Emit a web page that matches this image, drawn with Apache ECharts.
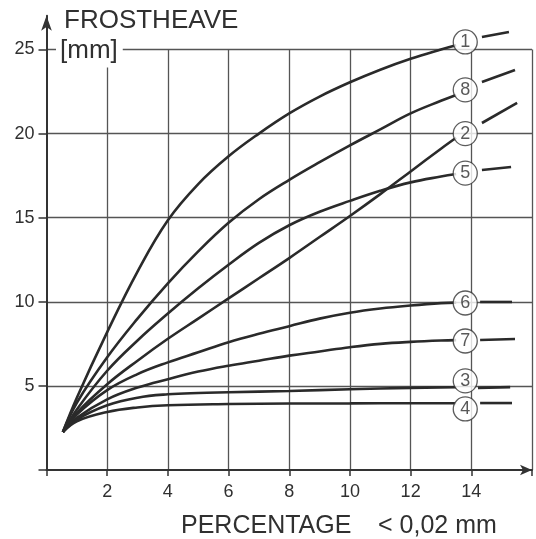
<!DOCTYPE html>
<html>
<head>
<meta charset="utf-8">
<script src="https://cdn.jsdelivr.net/npm/echarts@6/dist/echarts.min.js"></script>
<style>
html, body { margin: 0; padding: 0; background: #fff; }
#chartDom { width: 536px; height: 539px; }
</style>
</head>
<body>
<div id="chartDom"></div>
<script>
// axis tick labels
const xTicks = [2, 4, 6, 8, 10, 12, 14]
const yTicks = [5, 10, 15, 20, 25]

// curve names, in the order of the circled labels (top to bottom)
const curveNames = ['1', '8', '2', '5', '6', '7', '3', '4']

// frost heave [mm] against percentage < 0,02 mm
const curve1 = [[0.54, 2.26], [1, 4.3], [2, 8.2], [3, 11.8], [4, 14.85], [5, 17.0], [6, 18.65], [7, 20.0], [8, 21.2], [9, 22.2], [10, 23.05], [11, 23.8], [12, 24.45], [13, 25.0], [13.5, 25.25]]
const curve8 = [[0.54, 2.26], [1, 4.0], [2, 6.7], [3, 9.0], [4, 11.1], [5, 13.0], [6, 14.7], [7, 16.1], [8, 17.25], [9, 18.3], [10, 19.3], [11, 20.25], [12, 21.2], [13, 21.95], [13.5, 22.3]]
const curve2 = [[0.54, 2.26], [1, 3.4], [2, 5.1], [3, 6.5], [4, 7.8], [5, 9.0], [6, 10.2], [7, 11.4], [8, 12.6], [9, 13.85], [10, 15.1], [11, 16.4], [12, 17.75], [13, 19.1], [13.5, 19.75]]
const curve5 = [[0.54, 2.26], [1, 3.6], [2, 5.9], [3, 7.7], [4, 9.3], [5, 10.8], [6, 12.2], [7, 13.5], [8, 14.55], [9, 15.35], [10, 16.0], [11, 16.6], [12, 17.1], [13, 17.45], [13.5, 17.6]]
const curve6 = [[0.54, 2.26], [1, 3.3], [2, 4.75], [3, 5.7], [4, 6.4], [5, 7.0], [6, 7.6], [7, 8.1], [8, 8.55], [9, 9.0], [10, 9.35], [11, 9.6], [12, 9.78], [13, 9.92], [13.5, 9.95]]
const curve7 = [[0.54, 2.26], [1, 3.1], [2, 4.2], [3, 4.9], [4, 5.4], [5, 5.85], [6, 6.2], [7, 6.5], [8, 6.8], [9, 7.05], [10, 7.3], [11, 7.5], [12, 7.62], [13, 7.7], [13.5, 7.72]]
const curve3 = [[0.54, 2.26], [1, 3.0], [2, 3.85], [3, 4.3], [4, 4.5], [5, 4.58], [6, 4.62], [8, 4.7], [10, 4.8], [12, 4.88], [13.5, 4.92]]
const curve4 = [[0.54, 2.26], [1, 2.9], [2, 3.45], [3, 3.72], [4, 3.85], [6, 3.92], [8, 3.95], [10, 3.96], [12, 3.97], [13.5, 3.97]]

// short pieces right of the labels
const tail1 = [[14.35, 25.74], [15.24, 26.04]]
const tail8 = [[14.35, 23.07], [15.44, 23.78]]
const tail2 = [[14.35, 20.63], [15.51, 21.82]]
const tail5 = [[14.35, 17.84], [15.31, 18.01]]
const tail6 = [[14.29, 9.99], [15.34, 9.99]]
const tail7 = [[14.29, 7.73], [15.44, 7.79]]
const tail3 = [[14.22, 4.88], [15.28, 4.93]]
const tail4 = [[14.29, 3.98], [15.34, 3.98]]

// circled labels
const labelX = [13.8, 13.8, 13.8, 13.8, 13.8, 13.8, 13.8, 13.8]
const labelY = [25.45, 22.6, 20.0, 17.65, 9.93, 7.67, 5.3, 3.63]

// open circle near the origin
const startPoint = [[0.24, 1.55]]

const curves = [curve1, curve8, curve2, curve5, curve6, curve7, curve3, curve4]
const tails = [tail1, tail8, tail2, tail5, tail6, tail7, tail3, tail4]

function initChart () {
  const ink = '#2a2a2a'
  const gridColor = '#555'
  const font = "'Liberation Sans', Arial, sans-serif"
  const chart = echarts.init(document.getElementById('chartDom'))
  window.onresize = () => chart.resize()

  const series = []
  curves.forEach((c, i) => {
    series.push({
      name: 'curve ' + curveNames[i],
      type: 'line',
      xAxisIndex: 1,
      yAxisIndex: 1,
      data: c,
      smooth: 0.4,
      symbol: 'none',
      clip: false,
      lineStyle: { color: ink, width: 2.6 },
      z: 3
    })
  })
  tails.forEach((t, i) => {
    series.push({
      name: 'tail ' + curveNames[i],
      type: 'line',
      xAxisIndex: 1,
      yAxisIndex: 1,
      data: t,
      symbol: 'none',
      clip: false,
      lineStyle: { color: ink, width: 2.6 },
      z: 3
    })
  })
  // circled numbers
  series.push({
    type: 'scatter',
    xAxisIndex: 1,
    yAxisIndex: 1,
    symbol: 'circle',
    symbolSize: 24,
    clip: false,
    z: 5,
    itemStyle: { color: '#fff', borderColor: '#333', borderWidth: 1.3 },
    label: {
      show: true,
      position: 'inside',
      color: '#303030',
      fontFamily: font,
      fontSize: 18,
      formatter: p => p.value[2]
    },
    data: curveNames.map((n, i) => [labelX[i], labelY[i], n])
  })
  series.push({
    type: 'scatter',
    xAxisIndex: 1,
    yAxisIndex: 1,
    symbol: 'emptyCircle',
    symbolSize: 9,
    z: 5,
    itemStyle: { color: '#fff', borderColor: '#333', borderWidth: 1.3 },
    data: startPoint
  })

  const option = {
    animation: false,
    backgroundColor: '#fff',
    grid: [
      { left: 46.5, right: 4, top: 49.5, bottom: 69 },
      { left: 46.5, right: 4, top: 15.86, bottom: 69 }
    ],
    xAxis: [
      {
        gridIndex: 0,
        type: 'value',
        min: 0,
        max: 16,
        interval: 2,
        axisLine: {
          show: true,
          symbol: ['none', 'arrow'],
          symbolSize: [8, 12],
          lineStyle: { color: '#333', width: 2 }
        },
        axisTick: { show: true, length: 6, lineStyle: { color: '#333', width: 1.5 } },
        axisLabel: {
          margin: 13,
          color: '#303030',
          fontFamily: font,
          fontSize: 18,
          formatter: v => xTicks.includes(v) ? String(v) : ''
        },
        splitLine: {
          show: true,
          showMinLine: false,
          showMaxLine: true,
          lineStyle: { color: gridColor, width: 1.3 }
        }
      },
      { gridIndex: 1, type: 'value', min: 0, max: 16, show: false }
    ],
    yAxis: [
      {
        gridIndex: 0,
        type: 'value',
        min: 0,
        max: 25,
        interval: 5,
        axisLine: { show: false },
        axisTick: { show: true, length: 8, lineStyle: { color: '#333', width: 1.5 } },
        axisLabel: {
          margin: 12,
          color: '#303030',
          fontFamily: font,
          fontSize: 18,
          formatter: v => yTicks.includes(v) ? String(v) : ''
        },
        splitLine: {
          show: true,
          showMinLine: false,
          showMaxLine: true,
          lineStyle: { color: gridColor, width: 1.3 }
        }
      },
      {
        gridIndex: 1,
        type: 'value',
        min: 0,
        max: 27,
        axisLine: {
          show: true,
          symbol: ['none', 'arrow'],
          symbolSize: [8, 15],
          lineStyle: { color: '#333', width: 2 }
        },
        axisTick: { show: false },
        axisLabel: { show: false },
        splitLine: { show: false }
      }
    ],
    graphic: [
      {
        type: 'text', x: 64, y: 21, z: 100,
        style: { text: 'FROSTHEAVE', font: '26px ' + font, fill: '#303030', textVerticalAlign: 'middle' }
      },
      {
        type: 'text', x: 56, y: 50.5, z: 100,
        style: {
          text: '[mm]', font: '26px ' + font, fill: '#303030', textVerticalAlign: 'middle',
          backgroundColor: '#fff', padding: [0, 5, 8, 4]
        }
      },
      {
        type: 'text', x: 181, y: 526, z: 100,
        style: { text: 'PERCENTAGE', font: '25px ' + font, fill: '#303030', textVerticalAlign: 'middle' }
      },
      {
        type: 'text', x: 378, y: 526, z: 100,
        style: { text: '< 0,02 mm', font: '25px ' + font, fill: '#303030', textVerticalAlign: 'middle' }
      }
    ],
    series: series
  }
  chart.setOption(option)
}

initChart()
</script>
</body>
</html>
